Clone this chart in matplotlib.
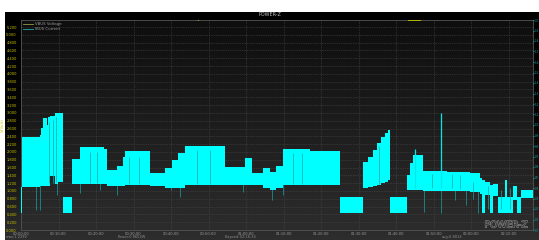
import matplotlib.pyplot as plt
import matplotlib.patheffects as pe
import numpy as np
from matplotlib.lines import Line2D
from matplotlib.colors import LinearSegmentedColormap

# time in minutes, current band (lower / upper envelope) in A
t = [0.0, 0.27, 5.07, 5.33, 5.87, 6.93, 7.2, 7.73, 9.07, 9.87, 11.2, 13.6, 15.73,
     22.13, 22.93, 25.6, 27.2, 27.73, 34.4, 38.4, 40.27, 41.87, 43.73, 54.4, 59.73,
     61.6, 64.53, 66.4, 68.0, 69.87, 77.07, 85.07, 91.2, 92.53, 93.87, 94.93, 96.0,
     97.07, 97.87, 98.4, 102.93, 103.73, 104.53, 107.2, 113.6, 119.73, 122.4, 122.93,
     123.73, 125.07, 125.87, 127.2, 129.07, 129.6, 131.2, 132.27, 133.33, 136.5]
cur_lo = [0.162, 0.410, 0.419, 0.419, 0.419, 0.419, 0.419, 0.514, 0.438, 0.457, 0.162, 0.438, 0.438,
          0.438, 0.419, 0.419, 0.419, 0.429, 0.419, 0.400, 0.400, 0.400, 0.429, 0.429, 0.429,
          0.429, 0.400, 0.381, 0.400, 0.429, 0.429, 0.162, 0.400, 0.410, 0.419, 0.429, 0.448,
          0.457, 0.476, 0.162, 0.381, 0.381, 0.381, 0.371, 0.371, 0.362, 0.343, 0.162,
          0.333, 0.162, 0.324, 0.162, 0.162, 0.162, 0.286, 0.162, 0.305, 0.305]
cur_hi = [0.410, 0.886, 0.905, 0.971, 1.067, 1.000, 1.076, 1.086, 1.114, 1.114, 0.314, 0.676, 0.790,
          0.771, 0.571, 0.610, 0.695, 0.752, 0.543, 0.590, 0.667, 0.733, 0.800, 0.600, 0.686,
          0.543, 0.590, 0.552, 0.610, 0.771, 0.752, 0.314, 0.648, 0.695, 0.762, 0.829, 0.886,
          0.924, 0.952, 0.314, 0.524, 0.638, 0.714, 0.562, 0.552, 0.543, 0.495, 0.476,
          0.457, 0.429, 0.438, 0.314, 0.476, 0.314, 0.419, 0.314, 0.381, 0.381]

# downward dropouts and upward spikes
drop_t = [4.0, 5.07, 9.6, 15.73, 21.07, 25.6, 40.0, 42.4, 59.2, 66.93, 69.87,
          107.47, 112.0, 115.73, 118.67, 121.87]
drop_v = [0.19, 0.19, 0.333, 0.352, 0.381, 0.333, 0.381, 0.314, 0.362, 0.286, 0.333,
          0.171, 0.162, 0.286, 0.238, 0.162]
peak_t = [105.07, 112.0]
peak_v = [0.771, 1.114]

# darker strands inside the cyan band
strand_t = [7.5, 8.6, 9.3, 18.5, 20.2, 28.8, 31.5, 47.0, 50.5, 72.5, 75.0, 95.5,
            109.5, 114.8, 117.0, 120.5, 124.5, 128.0, 130.3]
strand_lo = [0.45, 0.45, 0.46, 0.45, 0.45, 0.44, 0.44, 0.44, 0.44, 0.44, 0.44, 0.44,
             0.40, 0.40, 0.39, 0.30, 0.20, 0.20, 0.20]
strand_hi = [1.03, 1.05, 1.08, 0.74, 0.74, 0.70, 0.70, 0.76, 0.76, 0.73, 0.73, 0.80,
             0.53, 0.53, 0.52, 0.46, 0.42, 0.38, 0.40]

# voltage stays above the visible range, dipping in at two moments
volt_t = [0.0, 47.0, 47.3, 47.6, 103.0, 103.3, 106.5, 106.8, 136.5]
volt_v = [5.45, 5.45, 5.37, 5.45, 5.45, 5.37, 5.37, 5.45, 5.45]

xticks = np.arange(0, 140, 10)
xlabels = ['%02d:%02d:00' % (m // 60, m % 60) for m in xticks]
vticks = np.arange(0, 5.21, 0.2)
aticks = np.arange(0, 2.01, 0.1)

fig = plt.figure(figsize=(5.39, 2.40), dpi=100)
fig.patch.set_facecolor('white')

# window background
bg = fig.add_axes([5/539, 0, 1 - 5/539, 228/240])
grad = np.linspace(0, 1, 256).reshape(-1, 1)
bg.imshow(grad, aspect='auto', cmap=LinearSegmentedColormap.from_list(
    'w', ['#000000', '#050505', '#2e2e2e']), extent=[0, 1, 0, 1], origin='upper')
bg.set_axis_off()

ax = fig.add_axes([21/539, 10/240, 512/539, 210/240])
ax.set_facecolor('none')
g = np.linspace(0, 1, 256).reshape(-1, 1)
ax.imshow(g, aspect='auto', cmap=LinearSegmentedColormap.from_list(
    'p', ['#0e0e0e', '#2c2c2c']), extent=[0, 136.5, 0, 5.38], origin='upper', zorder=0)
ax.set_xlim(0, 136.5)
ax.set_ylim(0, 5.38)
ax.set_xticks(xticks)
ax.set_xticklabels(xlabels)
ax.set_yticks(vticks)
ax.set_yticklabels(['%.3f' % v for v in vticks])
ax.tick_params(axis='y', colors='#c8c000', labelsize=2.6, length=0, pad=3)
ax.tick_params(axis='x', colors='#9a9a9a', labelsize=2.6, length=0, pad=1.5)
ax.grid(True, color='#4a4a4a', linestyle=(0, (1, 1.5)), linewidth=0.5)
for s in ax.spines.values():
    s.set_color('#555555')
    s.set_linewidth(0.6)
ax.set_ylabel('V(Volt)', color='#c8c000', fontsize=3, labelpad=1)
ax.plot(volt_t, volt_v, color='#b8b800', linewidth=0.8, clip_on=True, zorder=3)

ax2 = ax.twinx()
ax2.set_ylim(0, 2.0)
ax2.set_yticks(aticks)
ax2.set_yticklabels(['%.1f' % v for v in aticks])
ax2.tick_params(axis='y', colors='#1aa0a0', labelsize=2.0, length=1, pad=0.3)
for s in ax2.spines.values():
    s.set_visible(False)

ax2.vlines(drop_t, drop_v, 0.45, color='#1d8c8c', linewidth=0.6, zorder=1)
ax2.fill_between(t, cur_lo, cur_hi, step='post', color='#00ffff', linewidth=0, zorder=2)
ax2.vlines(strand_t, strand_lo, strand_hi, color='#15a8a8', linewidth=0.5, zorder=2.5)
ax2.vlines(peak_t, 0.4, peak_v, color='#00e8e8', linewidth=0.9, zorder=3)

handles = [Line2D([], [], color='#9a9a40', linewidth=0.6),
           Line2D([], [], color='#20b0b0', linewidth=0.6)]
ax.legend(handles, ['VBUS Voltage', 'IBUS Current'], loc='upper left',
          fontsize=2.8, frameon=False, handlelength=2.5, labelcolor='#9a9a9a',
          borderaxespad=0.2, handletextpad=0.6, labelspacing=0.3)

fig.text(0.5, 226/240, 'POWER-Z', color='#c0c0c0', fontsize=3.5, ha='center', va='center')
fig.text(6/539, 3/240, 'max:1.239V', color='#8a8a8a', fontsize=2.6, va='center')
fig.text(118/539, 3/240, 'Power:0.8654W', color='#8a8a8a', fontsize=2.6, va='center')
fig.text(225/539, 3/240, 'Elapsed:02:16:34', color='#8a8a8a', fontsize=2.6, va='center')
fig.text(442/539, 3/240, 'avg:0.8014', color='#8a8a8a', fontsize=2.6, va='center')
fig.text(506/539, 15/240, 'POWER-Z', color='#2a2a2a', fontsize=6.6, ha='center', va='center',
         path_effects=[pe.withStroke(linewidth=0.8, foreground='#8a8a8a')])

fig.savefig('out.png', dpi=100, facecolor=fig.get_facecolor())
